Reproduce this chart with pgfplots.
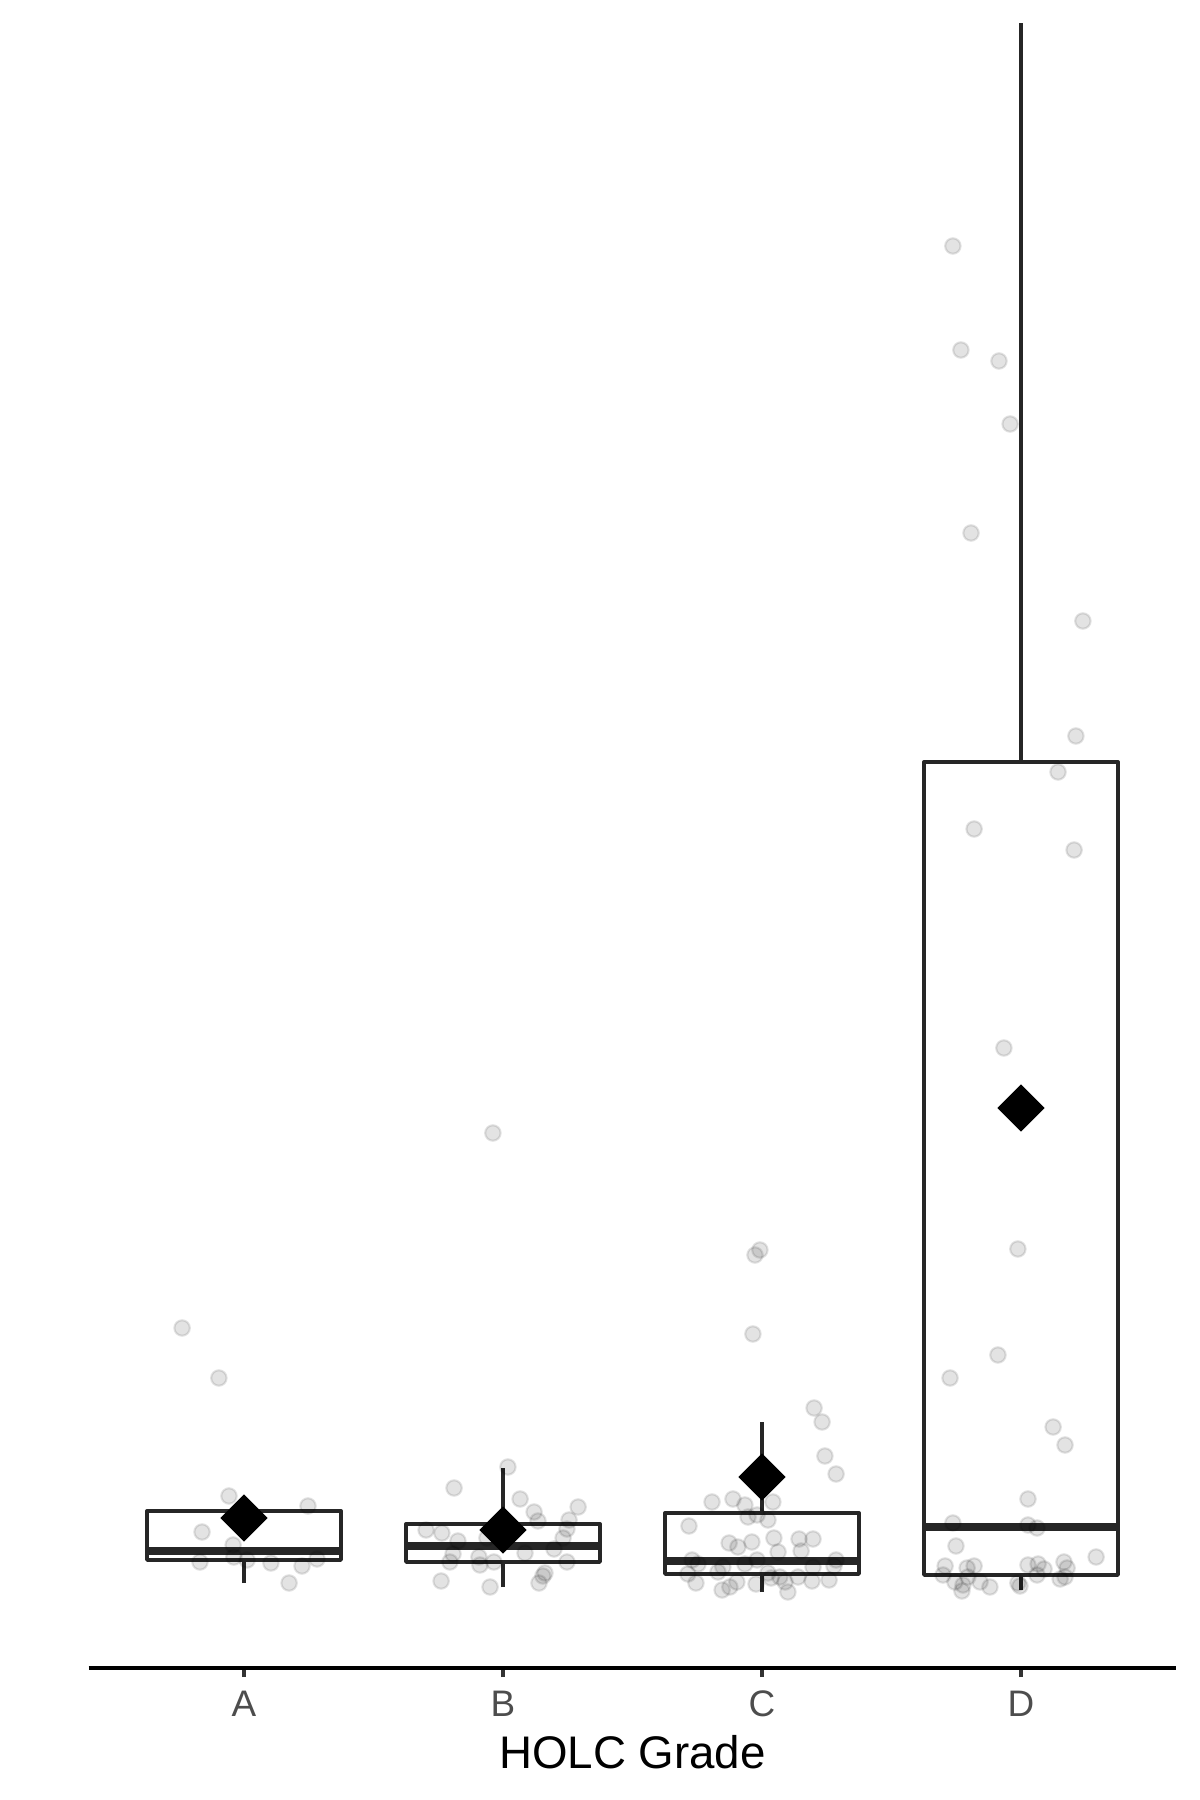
\documentclass[border=0pt]{standalone}
\usepackage{fontspec}
\setmainfont{Liberation Sans}
\usepackage{pgfplots}
\usepackage{pgfplotstable}
\pgfplotsset{compat=1.18}
\definecolor{boxline}{RGB}{38,38,38}
\definecolor{ticklab}{RGB}{77,77,77}
\definecolor{tickc}{RGB}{51,51,51}

\pgfplotstableread{
x y
-0.239 340
-0.097 290
-0.058 172
0.247 162
-0.162 136
-0.042 123
-0.170 106
-0.039 111
0.012 108
0.104 105
0.224 102
0.282 109
0.174 85
1.019 201
0.811 180
1.066 169
1.290 161
1.120 156
1.135 147
1.255 148
0.703 138
0.764 135
0.826 127
1.247 139
1.232 130
1.197 119
1.085 115
0.807 114
0.795 106
0.907 111
0.911 103
0.965 106
1.247 106
1.162 95
1.154 92
1.139 85
0.761 87
0.950 81
0.938 130
0.961 535
1.992 418
1.973 413
1.965 334
2.201 260
2.232 246
2.243 212
2.286 194
1.807 166
1.888 169
1.934 163
2.042 166
1.946 151
1.981 153
2.023 148
1.718 142
1.873 125
1.907 121
1.961 126
2.046 130
2.143 129
2.197 129
2.062 116
2.151 117
1.730 108
1.753 104
1.849 101
1.934 104
1.981 108
2.197 101
2.286 108
2.278 102
1.714 94
1.830 96
2.023 95
2.069 91
2.139 91
2.193 87
2.259 88
1.745 85
1.903 86
1.876 81
1.846 78
1.977 84
2.035 90
2.089 86
2.100 76
2.737 1422
2.768 1318
2.915 1307
2.958 1244
2.807 1135
3.239 1047
3.212 932
3.143 896
2.819 839
3.205 818
2.934 620
2.988 419
2.911 313
2.726 290
3.124 241
3.170 223
3.027 169
2.737 145
3.027 143
3.062 140
2.749 122
3.290 111
2.707 102
2.792 100
2.819 102
3.027 103
3.066 104
3.089 99
3.166 106
3.178 100
2.699 93
2.795 91
3.062 93
3.151 89
3.170 91
2.745 86
2.842 86
2.880 81
2.776 83
2.772 77
2.988 85
2.996 82
}\pointdata

\begin{document}
\begin{tikzpicture}
\useasboundingbox (0,0) rectangle (12cm,18cm);
\begin{axis}[
  at={(0.886cm,1.32cm)}, anchor=south west,
  scale only axis, width=10.878cm, height=16.68cm,
  xmin=-0.6, xmax=3.6, ymin=0, ymax=1668,
  axis x line=bottom, axis y line=none,
  x axis line style={-, line width=1.1pt, black},
  xtick={0,1,2,3}, xticklabels={A,B,C,D},
  xtick align=outside, major tick length=0.09cm,
  xtick style={line width=1pt, color=tickc},
  xticklabel style={font=\fontsize{10.5}{12}\selectfont, text=ticklab, anchor=base, yshift=-0.397cm},
  xlabel={HOLC Grade},
  xlabel style={font=\fontsize{13}{15}\selectfont, at={(axis description cs:0.5,0)}, anchor=base, yshift=-1.0cm},
  clip=false,
  wh/.style={draw=boxline, line width=0.95pt},
  bx/.style={draw=boxline, fill=white, line width=0.95pt, line join=round},
  md/.style={draw=boxline, line width=2.2pt},
]
% A
\addplot[wh] coordinates {(0,85) (0,108)};
\addplot[wh] coordinates {(0,157) (0,172)};
\addplot[bx] coordinates {(-0.375,108) (0.375,108) (0.375,157) (-0.375,157)} -- cycle;
\addplot[md] coordinates {(-0.375,117) (0.375,117)};
% B
\addplot[wh] coordinates {(1,81) (1,106)};
\addplot[wh] coordinates {(1,144) (1,200)};
\addplot[bx] coordinates {(0.625,106) (1.375,106) (1.375,144) (0.625,144)} -- cycle;
\addplot[md] coordinates {(0.625,122) (1.375,122)};
% C
\addplot[wh] coordinates {(2,76) (2,94)};
\addplot[wh] coordinates {(2,155) (2,246)};
\addplot[bx] coordinates {(1.625,94) (2.375,94) (2.375,155) (1.625,155)} -- cycle;
\addplot[md] coordinates {(1.625,107) (2.375,107)};
% D
\addplot[wh] coordinates {(3,78) (3,93)};
\addplot[wh] coordinates {(3,906) (3,1645)};
\addplot[bx] coordinates {(2.625,93) (3.375,93) (3.375,906) (2.625,906)} -- cycle;
\addplot[md] coordinates {(2.625,141) (3.375,141)};
% points
\addplot[only marks, mark=*, mark size=2.2pt, mark options={fill=black, draw=black, line width=0.6pt, fill opacity=0.11, draw opacity=0.11}] table[x=x, y=y] {\pointdata};
% means
\addplot[only marks, mark=square*, mark size=4.62pt, mark options={rotate=45, fill=black, draw=black, line width=0.3pt}] coordinates {(0,150) (1,138) (2,191) (3,560)};
\end{axis}
\end{tikzpicture}
\end{document}
